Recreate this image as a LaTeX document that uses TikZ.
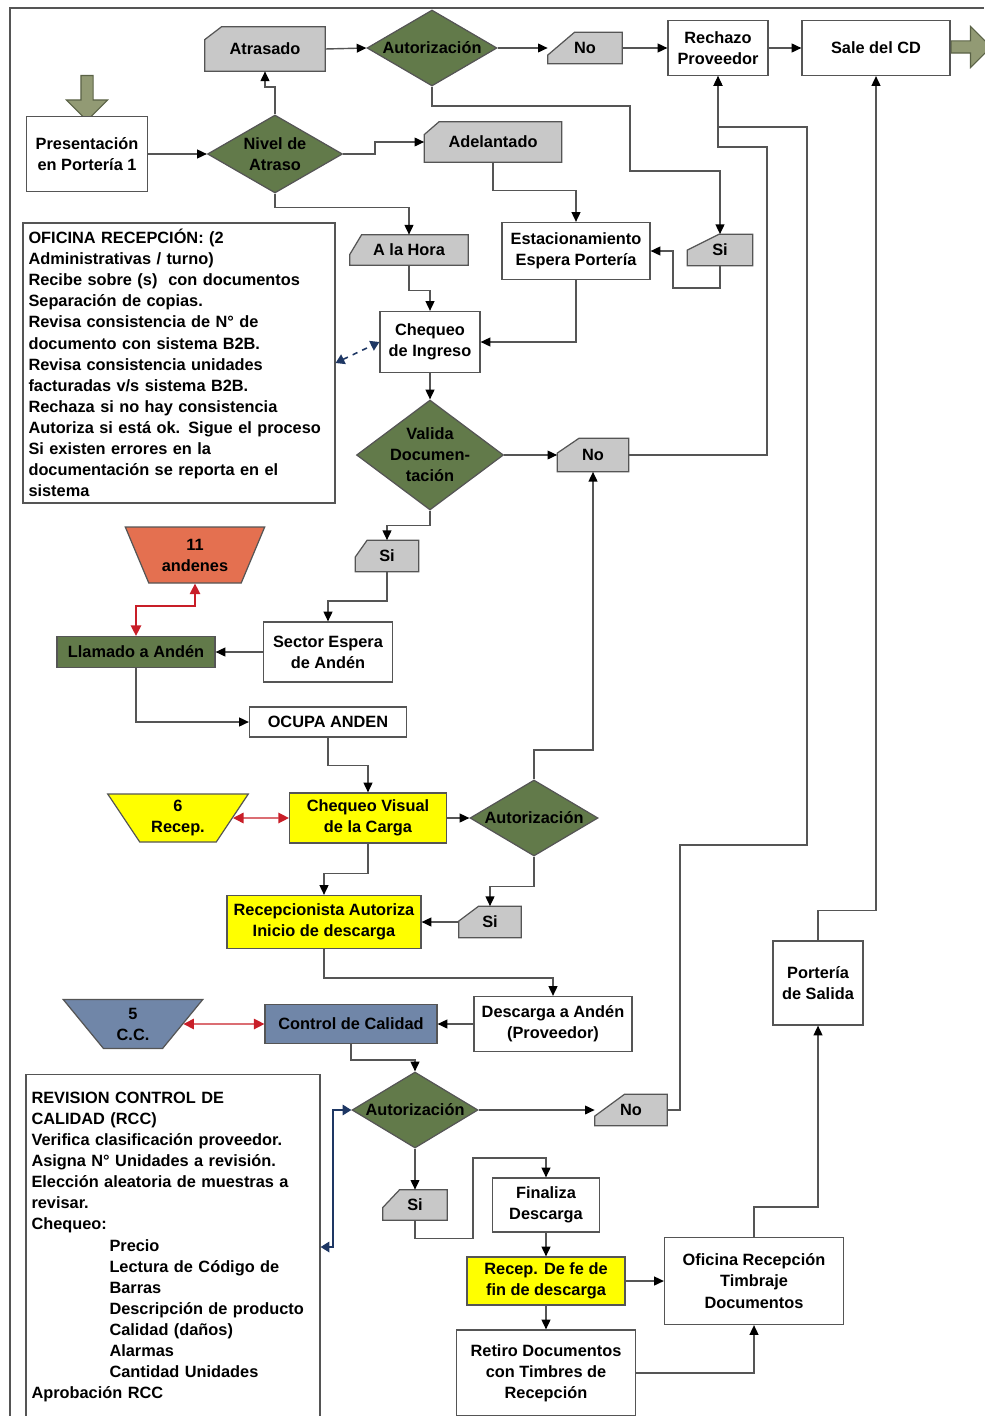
\documentclass[tikz,border=0pt]{standalone}
\usepackage{fontspec}
\setmainfont{Liberation Sans}
\usetikzlibrary{arrows.meta}
\usetikzlibrary{calc}
\usetikzlibrary{backgrounds}
\usetikzlibrary{shapes.geometric}
\usetikzlibrary{shapes.arrows}
\definecolor{linegray}{RGB}{85,85,85}
\definecolor{tagfill}{RGB}{200,200,200}
\definecolor{decgreen}{RGB}{98,122,74}
\definecolor{calyellow}{RGB}{255,255,0}
\definecolor{andorange}{RGB}{228,112,80}
\definecolor{ccblue}{RGB}{112,134,168}
\definecolor{olivearrow}{RGB}{146,154,116}
\definecolor{olivedark}{RGB}{90,98,70}
\definecolor{linkred}{RGB}{200,30,40}
\definecolor{linkblue}{RGB}{30,55,100}
\newcommand{\flowfont}{\fontsize{9.3}{12}\selectfont\bfseries}
% gray tag with the upper left corner cut off
\newcommand{\tagbg}[3]{\draw[tagline] ($(#1.north west)+(#2,0)$) -- (#1.north east)
  -- (#1.south east) -- (#1.south west) -- ($(#1.north west)+(0,#3)$) -- cycle;}

\begin{document}
\begin{tikzpicture}[x=0.02cm, y=-0.02cm, font=\flowfont,
    box/.style={draw=linegray, line width=0.7pt, fill=white, align=center, inner sep=1pt},
    tag/.style={rectangle, inner sep=0pt},
    tagline/.style={draw=linegray, line width=0.7pt, fill=tagfill},
    decision/.style={diamond, draw=linegray, line width=0.7pt, fill=decgreen, inner sep=0pt},
    dtext/.style={align=center, font=\flowfont},
    pool/.style={trapezium, trapezium stretches=true, shape border rotate=180,
      draw=linegray, line width=0.7pt, align=center, inner sep=0pt},
    note/.style={draw=linegray, line width=0.7pt, align=left, inner xsep=0.11cm},
    bigarrow/.style={single arrow, draw=olivedark, fill=olivearrow, line width=0.6pt,
      inner sep=0.11cm, single arrow head extend=0.29cm},
    flow/.style={draw=linegray, line width=0.8pt, -{Triangle[length=5.5pt, width=5pt, color=black]}},
    redlink/.style={draw=linkred, line width=0.8pt,
      {Triangle[length=6pt, width=6pt]}-{Triangle[length=6pt, width=6pt]}},
    bluelink/.style={draw=linkblue, line width=0.9pt,
      {Triangle[length=5pt, width=6pt]}-{Triangle[length=5pt, width=6pt]}}
  ]
  \useasboundingbox (0,0) rectangle (984,1416);
  \draw[linegray, line width=1.1pt] (10,1416) -- (10,8) -- (984,8);

  % entrada y porteria
  \node[bigarrow, rotate=-90, minimum height=0.9cm] (entrada) at (87,95) {};
  \node[box, minimum width=2.42cm, minimum height=1.5cm] (pres) at (87,154) {Presentación\\en Portería 1};
  \node[decision, minimum width=2.7cm, minimum height=1.56cm,
    label={[dtext]center:Nivel de\\Atraso}] (nivel) at (275,154) {};
  \node[tag, minimum width=2.4cm, minimum height=0.88cm] (atras) at (265,49) {Atrasado};
  \node[decision, minimum width=2.6cm, minimum height=1.52cm,
    label={[dtext]center:Autorización}] (aut1) at (432,48) {};
  \node[tag, minimum width=1.48cm, minimum height=0.62cm] (no1) at (585,48) {No};
  \node[box, minimum width=2cm, minimum height=1.1cm] (rech) at (718,48) {Rechazo\\Proveedor};
  \node[box, minimum width=2.96cm, minimum height=1.1cm] (sale) at (876,48) {Sale del CD};
  \node[bigarrow, minimum height=0.8cm] (salida) at (968,47) {};
  \node[tag, minimum width=2.74cm, minimum height=0.8cm] (adel) at (493,142) {Adelantado};
  \node[tag, minimum width=2.36cm, minimum height=0.6cm] (hora) at (409,250) {A la Hora};
  \node[box, minimum width=2.96cm, minimum height=1.14cm] (estac) at (576,251) {Estacionamiento\\Espera Portería};
  \node[tag, minimum width=1.3cm, minimum height=0.62cm] (si1) at (720,250) {Si};

  % oficina recepcion
  \node[note, minimum height=5.6cm, text width=6.02cm] (ofic) at (179,363) {OFICINA RECEPCIÓN: (2\\
    Administrativas / turno)\\
    Recibe sobre (s)\ \ con documentos\\
    Separación de copias.\\
    Revisa consistencia de N° de\\
    documento con sistema B2B.\\
    Revisa consistencia unidades\\
    facturadas v/s sistema B2B.\\
    Rechaza si no hay consistencia\\
    Autoriza si está ok. Sigue el proceso\\
    Si existen errores en la\\
    documentación se reporta en el\\
    sistema};
  \node[box, minimum width=2cm, minimum height=1.22cm] (cheq) at (430,342) {Chequeo\\de Ingreso};
  \node[decision, minimum width=2.94cm, minimum height=2.2cm,
    label={[dtext]center:Valida\\Documen-\\tación}] (valida) at (430,455) {};
  \node[tag, minimum width=1.42cm, minimum height=0.66cm] (no2) at (593,455) {No};
  \node[tag, minimum width=1.26cm, minimum height=0.62cm] (si2) at (387,556) {Si};

  % andenes
  \node[pool, fill=andorange, minimum width=2.8cm, minimum height=1.12cm,
    trapezium left angle=62.6, trapezium right angle=62.6] (anden11) at (195,555) {11\\andenes};
  \node[box, fill=decgreen, minimum width=3.16cm, minimum height=0.62cm] (llam) at (136,652) {Llamado a Andén};
  \node[box, minimum width=2.58cm, minimum height=1.2cm] (sector) at (328,652) {Sector Espera\\de Andén};
  \node[box, minimum width=3.14cm, minimum height=0.6cm] (ocupa) at (328,722) {OCUPA ANDEN};

  % chequeo visual
  \node[pool, fill=calyellow, minimum width=2.82cm, minimum height=0.96cm,
    trapezium left angle=58, trapezium right angle=58] (recep6) at (178,818) {6\\Recep.};
  \node[box, fill=calyellow, minimum width=3.14cm, minimum height=1cm] (cvis) at (368,818) {Chequeo Visual\\de la Carga};
  \node[decision, minimum width=2.56cm, minimum height=1.52cm,
    label={[dtext]center:Autorización}] (aut2) at (534,818) {};
  \node[tag, minimum width=1.24cm, minimum height=0.62cm] (si3) at (490,922) {Si};
  \node[box, fill=calyellow, minimum width=3.88cm, minimum height=1.06cm] (rauto) at (324,922) {Recepcionista Autoriza\\Inicio de descarga};

  % control de calidad
  \node[box, minimum width=3.16cm, minimum height=1.1cm] (descA) at (553,1024) {Descarga a Andén\\(Proveedor)};
  \node[box, fill=ccblue, minimum width=3.44cm, minimum height=0.78cm] (ccal) at (351,1024) {Control de Calidad};
  \node[pool, fill=ccblue, minimum width=2.8cm, minimum height=0.98cm,
    trapezium left angle=55.6, trapezium right angle=55.6] (cc5) at (133,1024) {5\\C.C.};
  \node[decision, minimum width=2.52cm, minimum height=1.52cm,
    label={[dtext]center:Autorización}] (aut3) at (415,1110) {};
  \node[tag, minimum width=1.44cm, minimum height=0.62cm] (no3) at (631,1110) {No};
  \node[tag, minimum width=1.28cm, minimum height=0.6cm] (si4) at (415,1205) {Si};
  \node[note, minimum height=6.9cm, text width=5.66cm] (rev) at (173,1247) {REVISION CONTROL DE\\
    CALIDAD (RCC)\\
    Verifica clasificación proveedor.\\
    Asigna N° Unidades a revisión.\\
    Elección aleatoria de muestras a\\
    revisar.\\
    Chequeo:\\
    \hspace*{1.56cm}Precio\\
    \hspace*{1.56cm}Lectura de Código de\\
    \hspace*{1.56cm}Barras\\
    \hspace*{1.56cm}Descripción de producto\\
    \hspace*{1.56cm}Calidad (daños)\\
    \hspace*{1.56cm}Alarmas\\
    \hspace*{1.56cm}Cantidad Unidades\\
    Aprobación RCC};

  % salida
  \node[box, minimum width=2.14cm, minimum height=1.08cm] (fin) at (546,1205) {Finaliza\\Descarga};
  \node[box, fill=calyellow, minimum width=3.16cm, minimum height=0.96cm] (fe) at (546,1281) {Recep. De fe de\\fin de descarga};
  \node[box, minimum width=3.58cm, minimum height=1.72cm] (retiro) at (546,1373) {Retiro Documentos\\con Timbres de\\Recepción};
  \node[box, minimum width=3.58cm, minimum height=1.74cm] (ofit) at (754,1281) {Oficina Recepción\\Timbraje\\Documentos};
  \node[box, minimum width=1.8cm, minimum height=1.68cm] (port) at (818,983) {Portería\\de Salida};

  \begin{scope}[on background layer]
    \tagbg{atras}{17}{13}
    \tagbg{no1}{27}{23}
    \tagbg{adel}{15}{13}
    \tagbg{hora}{12}{20}
    \tagbg{si1}{32}{16}
    \tagbg{no2}{22}{15}
    \tagbg{si2}{12}{17}
    \tagbg{si3}{20}{15}
    \tagbg{no3}{30}{22}
    \tagbg{si4}{17}{18}
  \end{scope}

  % conexiones
  \draw[flow] (pres.east) -- (nivel.west);
  \draw[flow] (nivel.north) -- (nivel.north |- 0,87) -| (atras.south);
  \draw[flow] (nivel.east) -- ++(32,0) |- (adel.west);
  \draw[flow] (nivel.south) -- ++(0,14) -| (hora.north);
  \draw[flow] (atras.east) -- (aut1.west);
  \draw[flow] (aut1.east) -- (no1.west);
  \draw[flow] (no1.east) -- (rech.west);
  \draw[flow] (rech.east) -- (sale.west);
  \draw[flow] (aut1.south) |- (630,106) |- (si1.north |- 0,171) -- (si1.north);
  \draw[flow] (adel.south) -- ++(0,28) -| (estac.north);
  \draw[flow] (si1.south) -- ++(0,22) -| (673,251) -- (estac.east);
  \draw[flow] (hora.south) -- ++(0,25) -| (cheq.north);
  \draw[flow] (estac.south) |- (cheq.east);
  \draw[flow] (cheq.south) -- (valida.north);
  \draw[bluelink, dashed] (ofic.east) -- (cheq.west);
  \draw[flow] (valida.east) -- (no2.west);
  \draw[flow] (no2.east) -| (767,147) -| (rech.south);
  \draw[flow] (valida.south) -- ++(0,15) -| (si2.north);
  \draw[flow] (si2.south) -- ++(0,29) -| (sector.north);
  \draw[flow] (sector.west) -- (llam.east);
  \draw[redlink] (llam.north) |- (anden11.south |- 0,606) -- (anden11.south);
  \draw[flow] (llam.south) |- (ocupa.west);
  \draw[flow] (ocupa.south) -- ++(0,28) -| (cvis.north);
  \draw[redlink] (recep6.east) -- (cvis.west);
  \draw[flow] (cvis.east) -- (aut2.west);
  \draw[flow] (aut2.north) |- (no2.south |- 0,750) -- (no2.south);
  \draw[flow] (cvis.south) -- ++(0,30) -| (rauto.north);
  \draw[flow] (aut2.south) -- ++(0,30) -| (si3.north);
  \draw[flow] (si3.west) -- (rauto.east);
  \draw[flow] (rauto.south) -- ++(0,29) -| (descA.north);
  \draw[flow] (descA.west) -- (ccal.east);
  \draw[redlink] (cc5.east) -- (ccal.west);
  \draw[flow] (ccal.south) -- ++(0,16) -| (aut3.north);
  \draw[flow] (aut3.east) -- (no3.west);
  \draw[flow] (no3.east) -| (680,845) -| (807,127) -| (rech.south);
  \draw[flow] (aut3.south) -- (si4.north);
  \draw[flow] (si4.south) -- ++(0,18) -| (473,1158) -| (fin.north);
  \draw[bluelink] (aut3.west) -| (333,1247) -- (rev.east);
  \draw[flow] (fin.south) -- (fe.north);
  \draw[flow] (fe.east) -- (ofit.west);
  \draw[flow] (fe.south) -- (retiro.north);
  \draw[flow] (retiro.east) -| (ofit.south);
  \draw[flow] (ofit.north) -- ++(0,-30) -| (port.south);
  \draw[flow] (port.north) -- ++(0,-30) -| (sale.south);
\end{tikzpicture}
\end{document}
